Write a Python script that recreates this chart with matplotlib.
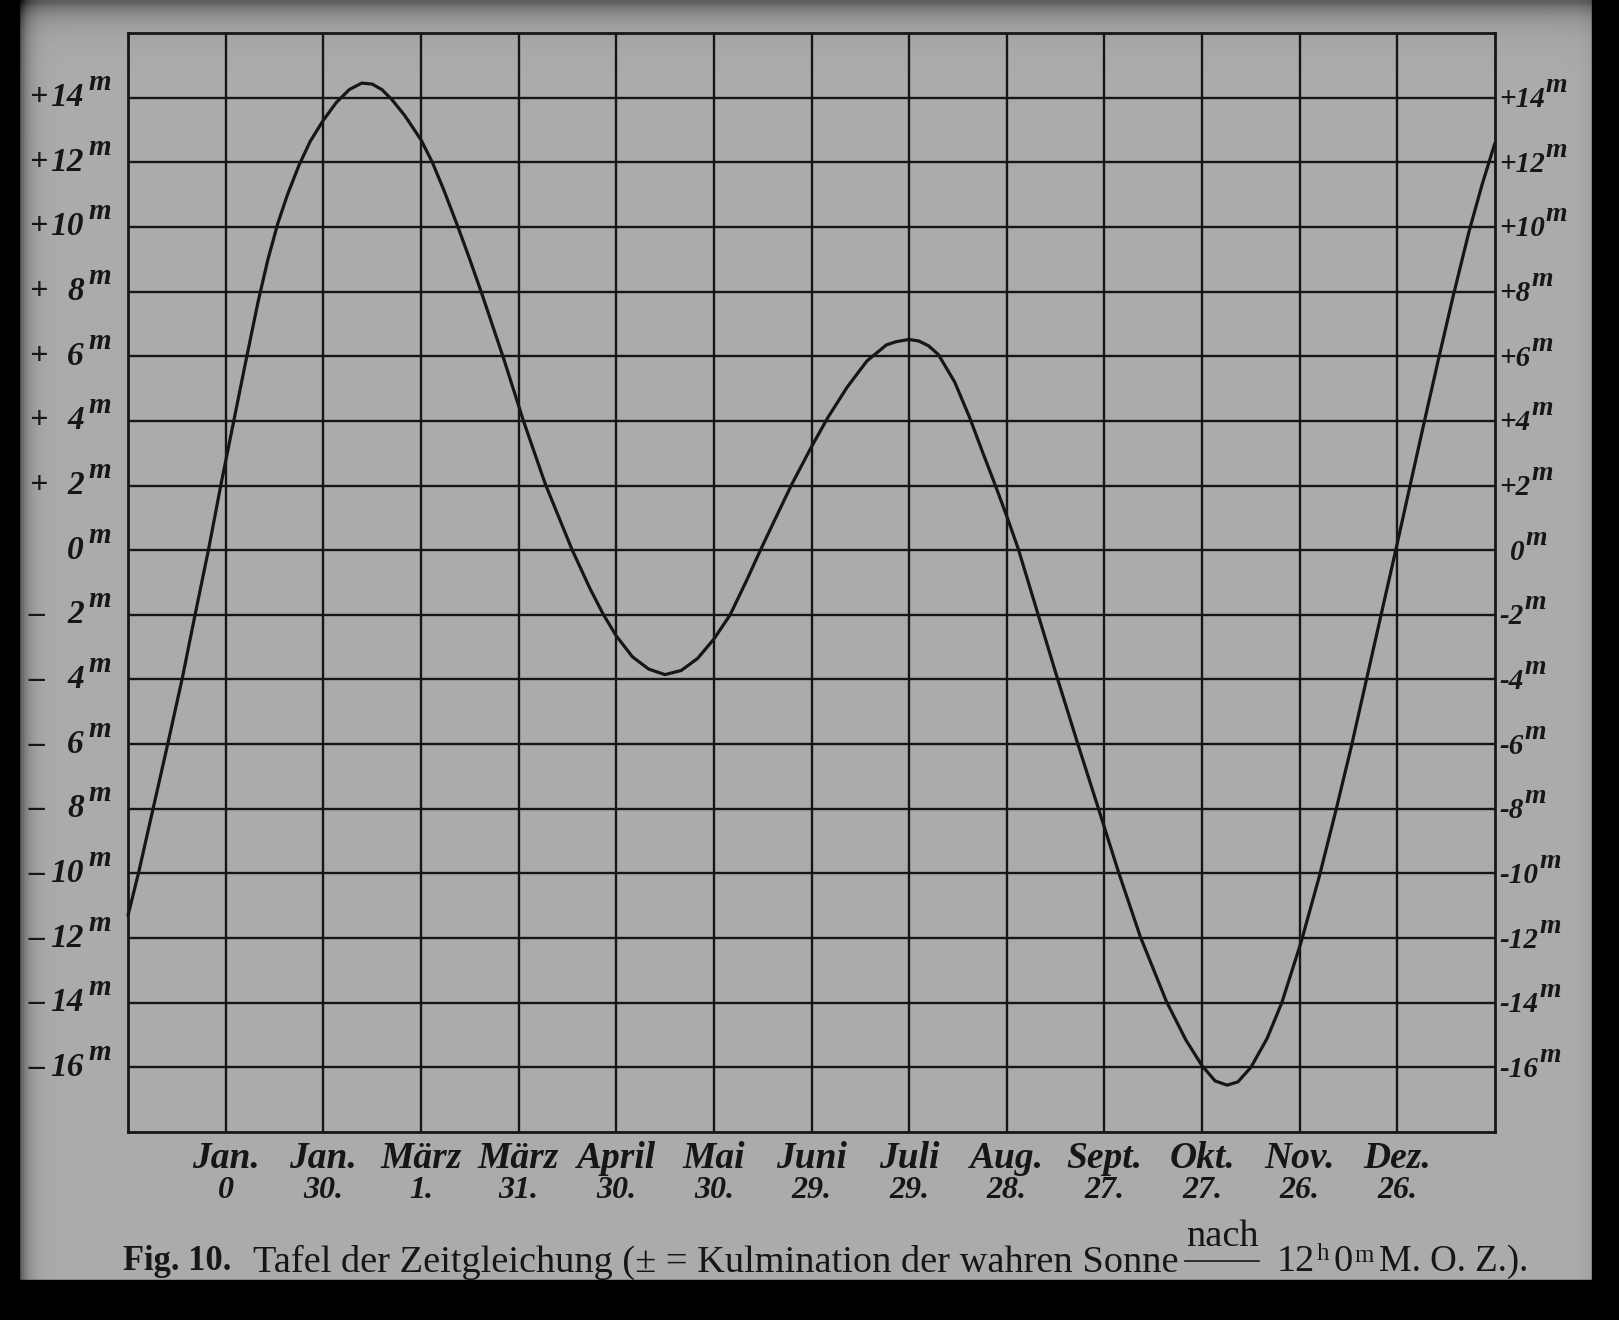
import numpy as np
import matplotlib
matplotlib.use("Agg")
import matplotlib.pyplot as plt
from matplotlib.lines import Line2D
from matplotlib.patches import Rectangle

# ---------------- data ----------------
# days counted from "Jan. 0"; value = equation of time in minutes
days = [-30, -26.8, -22.3, -17.8, -13.3, -9.4, -5.3, -1.5, 0, 2.3, 6, 10, 13,
        16, 19, 22.5, 26, 30, 34, 38, 41.8, 45, 48, 51, 55, 60, 63.5, 67, 71,
        75, 79, 85.5, 91.5, 98.2, 106.5, 112, 116, 120, 125, 130, 135, 140,
        145, 150, 155, 160, 164.3, 169, 174, 180, 185, 191, 197, 203, 206, 210,
        213, 216, 219, 224, 228.6, 232.5, 236.5, 240, 243.5, 249.5, 255.5, 262,
        268.5, 274.3, 281, 289, 295, 300, 304, 307.7, 311, 315, 320, 324.5,
        330.5, 336, 341, 345.8, 350.4, 355, 359.5, 363.8, 368, 372.5, 377, 382,
        386, 390]
minutes = [-11.3, -10.0, -8.0, -6.0, -3.95, -2.0, 0.0, 2.0, 2.75, 3.9, 5.75,
           7.7, 9.0, 10.1, 11.0, 11.9, 12.65, 13.3, 13.85, 14.25, 14.45, 14.42,
           14.25, 13.95, 13.45, 12.7, 12.0, 11.15, 10.1, 9.0, 7.85, 5.9, 4.0,
           2.05, 0.0, -1.2, -1.98, -2.65, -3.3, -3.68, -3.85, -3.72, -3.35,
           -2.75, -2.0, -0.95, 0.0, 1.0, 2.05, 3.2, 4.1, 5.05, 5.85, 6.35, 6.45,
           6.52, 6.47, 6.32, 6.05, 5.2, 4.1, 3.05, 2.0, 1.05, 0.05, -1.95,
           -3.95, -6.05, -8.1, -9.95, -11.95, -13.95, -15.15, -15.95, -16.42,
           -16.55, -16.45, -16.0, -15.1, -14.0, -12.1, -10.1, -8.1, -6.1,
           -4.05, -2.0, 0.0, 1.95, 3.85, 5.85, 7.8, 9.85, 11.3, 12.6]

grid_days = [0, 30, 60, 90, 120, 150, 180, 210, 240, 270, 300, 330, 360]
month_labels = ["Jan.", "Jan.", "März", "März", "April", "Mai", "Juni",
                "Juli", "Aug.", "Sept.", "Okt.", "Nov.", "Dez."]
date_labels = ["0", "30.", "1.", "31.", "30.", "30.", "29.", "29.", "28.",
               "27.", "27.", "26.", "26."]
minute_ticks = [14, 12, 10, 8, 6, 4, 2, 0, -2, -4, -6, -8, -10, -12, -14, -16]

# ---------------- styling ----------------
W, H = 1619, 1320
INK = "#161616"
PAPER = 0.67
FONT = "Liberation Serif"

fig = plt.figure(figsize=(W / 100, H / 100), dpi=100)

# paper background with darker edges (scan look)
bg = fig.add_axes([0, 0, 1, 1], zorder=-10)
ys = np.linspace(0, H, 330)[:, None]
xs = np.linspace(0, W, 405)[None, :]
shade = (PAPER
         - 0.30 * np.exp(-ys / 14.0)
         - 0.35 * np.exp(-np.clip(xs - 18, 0, None) / 8.0)
         - 0.04 * np.exp(-np.clip(W - 27 - xs, 0, None) / 8.0))
bg.imshow(np.clip(shade, 0, 1), cmap="gray", vmin=0, vmax=1, aspect="auto",
          extent=[0, 1, 0, 1], interpolation="bilinear")
bg.set_axis_off()

L, R, T, B = 128, 1495, 33, 1132
ax = fig.add_axes([L / W, 1 - B / H, (R - L) / W, (B - T) / H])
ax.set_facecolor("none")
ax.set_xlim(-30, 390)
ax.set_ylim(-18, 16)
ax.set_xticks(grid_days)
ax.set_yticks(minute_ticks)
ax.tick_params(length=0, labelbottom=False, labelleft=False)
ax.grid(True, color=INK, lw=1.7)
for s in ax.spines.values():
    s.set_color(INK)
    s.set_linewidth(2.0)

ax.plot(days, minutes, color=INK, lw=2.3, solid_joinstyle="round",
        solid_capstyle="round", zorder=3, clip_on=False)

renderer = fig.canvas.get_renderer()
lab = dict(family=FONT, weight="bold", style="italic", color=INK)


def ypix(v):
    """pixel row (from top) of a data value"""
    return H - ax.transData.transform((0, v))[1]


def ftext(xp, yp, s, **kw):
    return fig.text(xp / W, 1 - yp / H, s, **kw)


def right_px(t):
    return t.get_window_extent(renderer).x1


# left minute labels
for v in minute_ticks:
    yp = ypix(v)
    sign = "+" if v > 0 else ("\u2013" if v < 0 else "")
    if sign:
        ftext(29, yp, sign, ha="left", va="center", fontsize=23, **lab)
    ftext(84, yp, str(abs(v)), ha="right", va="center", fontsize=24, **lab)
    ftext(88, yp - 15, "m", ha="left", va="center", fontsize=21, **lab)

# right minute labels
for v in minute_ticks:
    yp = ypix(v)
    sign = "+" if v > 0 else ("-" if v < 0 else "")
    x0 = 1510 if v == 0 else 1499
    t = ftext(x0, yp + 2, sign + str(abs(v)), ha="left", va="center",
              fontsize=21, **lab)
    ftext(right_px(t) + 1, yp - 12, "m", ha="left", va="center",
          fontsize=20, **lab)

# bottom date labels
for d, mo, da in zip(grid_days, month_labels, date_labels):
    xp = ax.transData.transform((d, 0))[0]
    ftext(xp, 1158, mo, ha="center", va="center", fontsize=27, **lab)
    ftext(xp, 1191, da, ha="center", va="center", fontsize=23, **lab)

# caption
cap = dict(family=FONT, color=INK, va="center")
CY = 1262
t = ftext(253, CY, "Tafel der Zeitgleichung (\u00b1 = Kulmination der wahren Sonne",
          ha="left", fontsize=22, **cap)
fs = 22 * 922 / t.get_window_extent(renderer).width
t.set_fontsize(fs)
ftext(123, CY, "Fig. 10.", ha="left", fontsize=fs * 0.9, weight="bold", **cap)
ftext(1222, 1237, "nach", ha="center", fontsize=fs, **cap)
ftext(1222, 1290, "vor", ha="center", fontsize=fs, **cap)
fig.add_artist(Line2D([1185 / W, 1259 / W], [1 - 1261 / H, 1 - 1261 / H],
                      color=INK, lw=1.2, transform=fig.transFigure))
t = ftext(1277, CY, "12", ha="left", fontsize=fs, **cap)
t = ftext(right_px(t) + 1, CY - 8, "h", ha="left", fontsize=fs * 0.65, **cap)
t = ftext(right_px(t) + 5, CY, "0", ha="left", fontsize=fs, **cap)
t = ftext(right_px(t) + 1, CY - 6, "m", ha="left", fontsize=fs * 0.65, **cap)
ftext(right_px(t) + 6, CY, "M. O. Z.).", ha="left", fontsize=fs * 0.96, **cap)

# black film border of the photograph
for rect in [(0, 0, 19 / W, 1), (1 - 27 / W, 0, 27 / W, 1), (0, 0, 1, 40 / H)]:
    fig.add_artist(Rectangle(rect[:2], rect[2], rect[3], color="black",
                             transform=fig.transFigure, zorder=20))

fig.savefig("out.png", dpi=100)
